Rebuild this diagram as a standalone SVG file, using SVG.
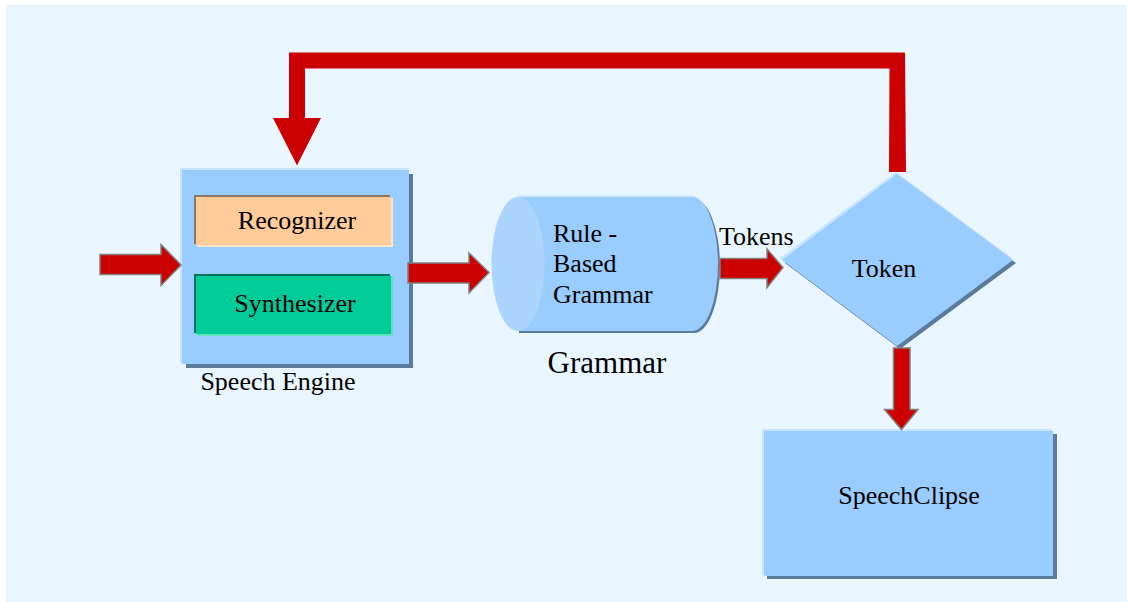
<svg xmlns="http://www.w3.org/2000/svg" width="1127" height="602" viewBox="0 0 1127 602">
<style>
text{font-family:"Liberation Serif","Times New Roman",serif;fill:#000}
.t26{font-size:26px}
.blk{fill:#cc0000;stroke:#7f7f7f;stroke-width:1.5;stroke-linejoin:miter}
.fb{fill:#cc0000}
.shadow{fill:#5b7b9c}
.hl{fill:#c6e3ff}
.node{fill:#99ccff}
</style>
<rect x="0" y="0" width="1127" height="602" fill="#ffffff"/>
<rect x="6" y="5" width="1121" height="597" fill="#eaf6ff"/>

<g id="speech-engine">
  <rect class="shadow" x="186" y="174" width="227" height="194"/>
  <rect class="hl" x="180" y="168" width="228" height="195"/>
  <rect class="node" x="182" y="170" width="227" height="194"/>
  <text class="t26" x="278" y="390" text-anchor="middle">Speech Engine</text>
</g>

<g id="recognizer">
  <rect x="197" y="198" width="196" height="49" fill="#ffe3c4"/>
  <rect x="194" y="195" width="196" height="49" fill="#8a7663"/>
  <rect x="196" y="197" width="195" height="48" fill="#ffcc99"/>
  <text class="t26" x="297" y="229" text-anchor="middle">Recognizer</text>
</g>

<g id="synthesizer">
  <rect x="197" y="277" width="196" height="59" fill="#5fe3bd"/>
  <rect x="194" y="274" width="196" height="59" fill="#00735a"/>
  <rect x="196" y="276" width="195" height="58" fill="#00cc99"/>
  <text class="t26" x="295" y="312" text-anchor="middle">Synthesizer</text>
</g>

<g id="grammar">
  <path class="shadow" d="M519,199 L694,199 A26,67 0 0 1 694,333 L519,333 Z"/>
  <path fill="#c6e3ff" d="M517,195.5 L691,195.5 A26,67 0 0 1 691,329.5 L517,329.5 Z"/>
  <path class="node" d="M518,197 L692,197 A26,67 0 0 1 692,331 L518,331 Z"/>
  <ellipse cx="518" cy="264" rx="26.5" ry="67" fill="#abd5ff"/>
  <text class="t26" x="553" y="242">Rule -</text>
  <text class="t26" x="553" y="272">Based</text>
  <text class="t26" x="553" y="303">Grammar</text>
  <text x="607" y="373" font-size="31" text-anchor="middle">Grammar</text>
</g>

<g id="tokens-label">
  <text class="t26" x="719" y="245">Tokens</text>
</g>

<g id="token">
  <polygon class="shadow" points="900,177 1016,263 900,349 785,263"/>
  <polygon class="hl" points="896,172 1012,258 896,344 780,258"/>
  <polygon class="node" points="897,174 1013,260 897,346 782,260"/>
  <text class="t26" x="884" y="277" text-anchor="middle">Token</text>
</g>

<g id="speechclipse">
  <rect class="shadow" x="767" y="434" width="290" height="145"/>
  <rect class="hl" x="762" y="429" width="290" height="146"/>
  <rect class="node" x="764" y="431" width="289" height="145"/>
  <text class="t26" x="909" y="504" text-anchor="middle">SpeechClipse</text>
</g>

<g id="connectors">
  <path class="blk" d="M100,254.5 L161,254.5 L161,244.5 L181,265 L161,285.5 L161,274.5 L100,274.5 Z"/>
  <path class="blk" d="M408,263 L469,263 L469,253 L489,272.5 L469,293 L469,283 L408,283 Z"/>
  <path class="blk" d="M720,258.5 L767,258.5 L767,249 L783,267.5 L767,287.5 L767,278.5 L720,278.5 Z"/>
  <path class="blk" d="M893.5,348 L910,348 L910,409.5 L918,409.5 L901.5,429.5 L884.5,409.5 L893.5,409.5 Z"/>
  <path class="fb" d="M889,172 L906,172 L905,52.5 L289,52.5 L289,118 L273,118 L297,165.5 L321,118 L305,118 L305,68.5 L889.5,68.5 Z"/>
</g>
</svg>
